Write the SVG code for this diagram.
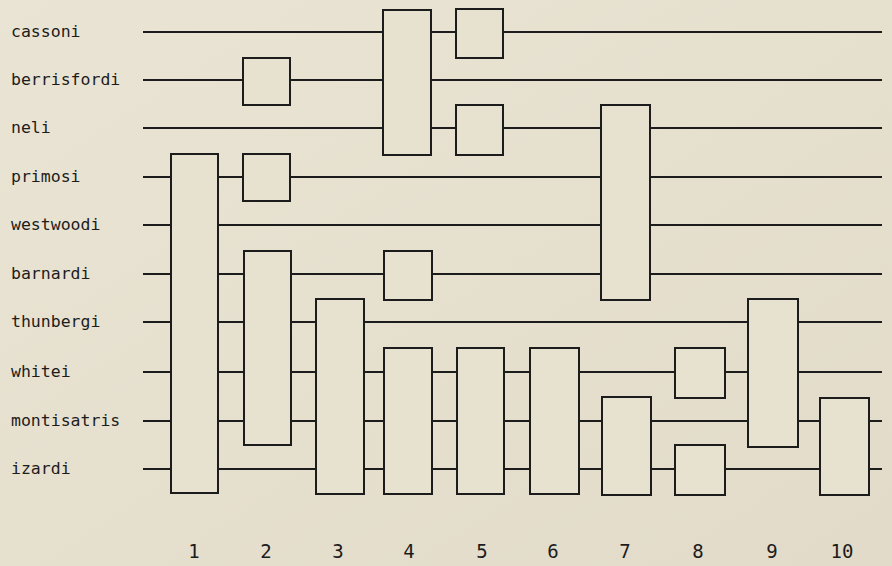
<svg xmlns="http://www.w3.org/2000/svg" width="892" height="566" viewBox="0 0 892 566">
<defs>
<linearGradient id="bg" x1="0" y1="0" x2="1" y2="1">
<stop offset="0" stop-color="#eae4d4"/>
<stop offset="1" stop-color="#e2dbc9"/>
</linearGradient>
<style>
.lbl{font-family:"DejaVu Sans Mono","Liberation Mono",monospace;font-size:16.5px;fill:#1c1c1c}
.num{font-family:"DejaVu Sans Mono","Liberation Mono",monospace;font-size:19px;fill:#1c1c1c;text-anchor:middle}
.ln{stroke:#1c1c1c;stroke-width:2;fill:none}
.bx{fill:#e7e1d0;stroke:#1c1c1c;stroke-width:2}
</style>
</defs>
<rect width="892" height="566" fill="url(#bg)"/>
<g id="labels">
<text class="lbl" x="11" y="37">cassoni</text>
<text class="lbl" x="11" y="85">berrisfordi</text>
<text class="lbl" x="11" y="133">neli</text>
<text class="lbl" x="11" y="182">primosi</text>
<text class="lbl" x="11" y="230">westwoodi</text>
<text class="lbl" x="11" y="279">barnardi</text>
<text class="lbl" x="11" y="327">thunbergi</text>
<text class="lbl" x="11" y="377">whitei</text>
<text class="lbl" x="11" y="426">montisatris</text>
<text class="lbl" x="11" y="474">izardi</text>
</g>
<g id="connectors">
<line class="ln" x1="143" y1="32" x2="882" y2="32"/>
<line class="ln" x1="143" y1="80" x2="882" y2="80"/>
<line class="ln" x1="143" y1="128" x2="882" y2="128"/>
<line class="ln" x1="143" y1="177" x2="882" y2="177"/>
<line class="ln" x1="143" y1="225" x2="882" y2="225"/>
<line class="ln" x1="143" y1="274" x2="882" y2="274"/>
<line class="ln" x1="143" y1="322" x2="882" y2="322"/>
<line class="ln" x1="143" y1="372" x2="882" y2="372"/>
<line class="ln" x1="143" y1="421" x2="882" y2="421"/>
<line class="ln" x1="143" y1="469" x2="882" y2="469"/>
</g>
<g id="col1"><rect class="bx" x="171" y="154" width="47" height="339"/></g>
<g id="col2a"><rect class="bx" x="243" y="58" width="47" height="47"/></g>
<g id="col2b"><rect class="bx" x="243" y="154" width="47" height="47"/></g>
<g id="col2c"><rect class="bx" x="244" y="251" width="47" height="194"/></g>
<g id="col3"><rect class="bx" x="316" y="299" width="48" height="195"/></g>
<g id="col4a"><rect class="bx" x="383" y="10" width="48" height="145"/></g>
<g id="col4b"><rect class="bx" x="384" y="251" width="48" height="49"/></g>
<g id="col4c"><rect class="bx" x="384" y="348" width="48" height="146"/></g>
<g id="col5a"><rect class="bx" x="456" y="9" width="47" height="49"/></g>
<g id="col5b"><rect class="bx" x="456" y="105" width="47" height="50"/></g>
<g id="col5c"><rect class="bx" x="457" y="348" width="47" height="146"/></g>
<g id="col6"><rect class="bx" x="530" y="348" width="49" height="146"/></g>
<g id="col7a"><rect class="bx" x="601" y="105" width="49" height="195"/></g>
<g id="col7b"><rect class="bx" x="602" y="397" width="49" height="98"/></g>
<g id="col8a"><rect class="bx" x="675" y="348" width="50" height="50"/></g>
<g id="col8b"><rect class="bx" x="675" y="445" width="50" height="50"/></g>
<g id="col9"><rect class="bx" x="748" y="299" width="50" height="148"/></g>
<g id="col10"><rect class="bx" x="820" y="398" width="49" height="97"/></g>
<g id="numbers">
<text class="num" x="194" y="558">1</text>
<text class="num" x="266" y="558">2</text>
<text class="num" x="338" y="558">3</text>
<text class="num" x="409" y="558">4</text>
<text class="num" x="482" y="558">5</text>
<text class="num" x="553" y="558">6</text>
<text class="num" x="625" y="558">7</text>
<text class="num" x="698" y="558">8</text>
<text class="num" x="772" y="558">9</text>
<text class="num" x="842" y="558">10</text>
</g>
</svg>
